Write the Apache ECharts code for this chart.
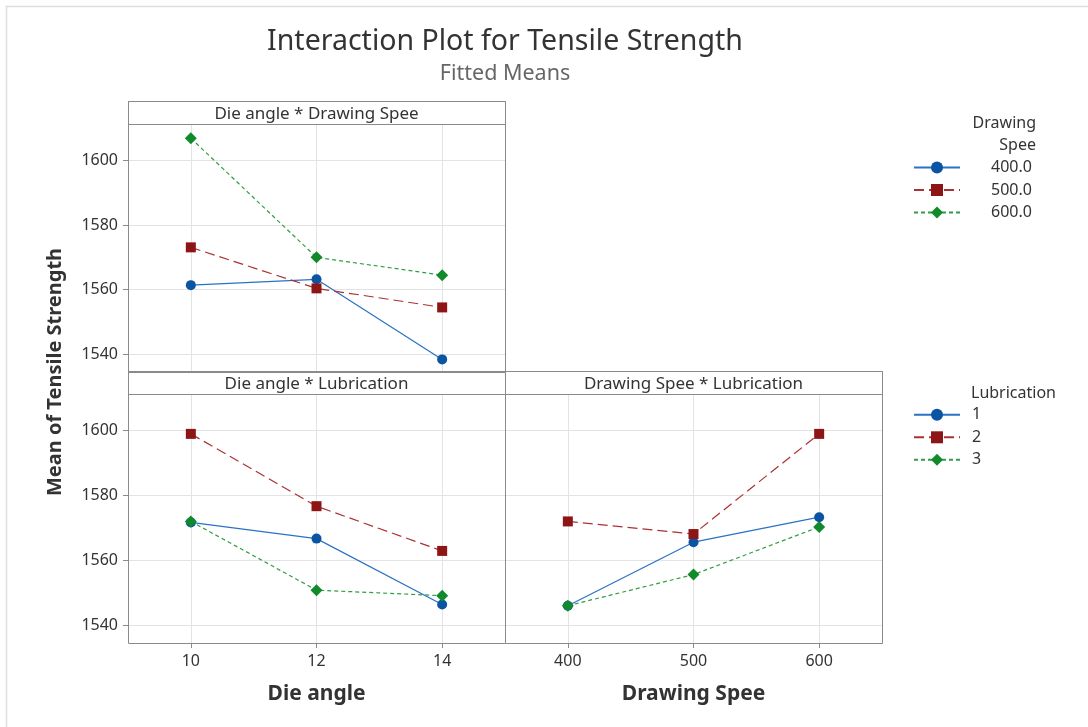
<!DOCTYPE html>
<html>
<head>
<meta charset="utf-8">
<title>Interaction Plot for Tensile Strength</title>
<script src="https://cdn.jsdelivr.net/npm/echarts@6/dist/echarts.min.js"></script>
<style>
  html, body { margin: 0; padding: 0; background: #ffffff; }
  #chart { width: 1088px; height: 727px; }
</style>
</head>
<body>
<div id="chart"></div>
<script>
// Factor levels
const dieAngles = [10, 12, 14];
const drawingSpeeds = [400, 500, 600];
const speedLevels = ['400.0', '500.0', '600.0'];
const lubLevels = ['1', '2', '3'];

// Fitted means: Die angle x Drawing Spee (one array per drawing speed)
const angleSpeed400 = [1561.4, 1563.2, 1538.4];
const angleSpeed500 = [1573.1, 1560.4, 1554.5];
const angleSpeed600 = [1606.9, 1570.0, 1564.5];

// Fitted means: Die angle x Lubrication
const angleLub1 = [1571.7, 1566.7, 1546.4];
const angleLub2 = [1599.0, 1576.7, 1562.9];
const angleLub3 = [1572.0, 1550.8, 1549.1];

// Fitted means: Drawing Spee x Lubrication
const speedLub1 = [1546.0, 1565.6, 1573.3];
const speedLub2 = [1572.0, 1568.1, 1599.0];
const speedLub3 = [1546.0, 1555.6, 1570.3];

// Axis tick labels
const yTicks = [1540, 1560, 1580, 1600];
const angleTicks = [10, 12, 14];
const speedTicks = [400, 500, 600];

const FONT = '"Noto Sans", "Open Sans", sans-serif';
const TEXT = '#333333';
const FRAME = '#8a8a8a';
const GRIDLINE = '#e3e3e3';

// Shared y range for all panels
const yMin = 1534.5, yMax = 1611.3;

const levelStyles = [
  { symbol: 'circle',  size: 10, color: '#0b54a4', line: '#2a72c4', type: 'solid' },
  { symbol: 'rect',    size: 10, color: '#8e1515', line: '#aa3232', type: [10, 5] },
  { symbol: 'diamond', size: 12, color: '#118a2c', line: '#2f9e45', type: [4, 3] }
];

function makeSeries(name, xs, ys, gridIdx, st) {
  return {
    type: 'line',
    name: name,
    xAxisIndex: gridIdx,
    yAxisIndex: gridIdx,
    data: xs.map((x, i) => [x, ys[i]]),
    symbol: st.symbol,
    symbolSize: st.size,
    showAllSymbol: true,
    itemStyle: { color: st.color },
    lineStyle: { color: st.line, width: 1.2, type: st.type },
    emphasis: { disabled: true },
    animation: false
  };
}

function yAxisCfg(gridIdx, showLabels) {
  return {
    type: 'value', gridIndex: gridIdx, min: yMin, max: yMax, splitNumber: 4,
    axisLine: { show: false, onZero: false },
    axisTick: { show: showLabels, length: 5, customValues: yTicks, lineStyle: { color: FRAME } },
    axisLabel: {
      show: showLabels, customValues: yTicks, margin: 10,
      fontSize: 16, fontFamily: FONT, color: TEXT,
      formatter: v => (yTicks.indexOf(v) >= 0 ? String(v) : '')
    },
    splitLine: { show: true, lineStyle: { color: GRIDLINE, width: 1 } }
  };
}

function xAxisCfg(gridIdx, min, max, ticks, showLabels, name) {
  return {
    type: 'value', gridIndex: gridIdx, min: min, max: max, splitNumber: 3,
    axisLine: { show: false, onZero: false },
    axisTick: { show: showLabels, length: 5, customValues: ticks, lineStyle: { color: FRAME } },
    axisLabel: {
      show: showLabels, customValues: ticks, margin: 10,
      fontSize: 16, fontFamily: FONT, color: TEXT,
      formatter: v => (ticks.indexOf(v) >= 0 ? String(v) : '')
    },
    splitLine: { show: true, lineStyle: { color: GRIDLINE, width: 1 } },
    name: name || '',
    nameLocation: 'middle',
    nameGap: 41,
    nameTextStyle: { fontSize: 21, fontWeight: 'bold', fontFamily: FONT, color: TEXT }
  };
}

const frame = { fill: 'none', stroke: FRAME, lineWidth: 1 };

function boxRect(x, y, w, h) {
  return { type: 'rect', z: 100, silent: true, shape: { x: x, y: y, width: w, height: h }, style: frame };
}
function label(x, y, text, size, color, align, extra) {
  return Object.assign({
    type: 'text', z: 101, silent: true, x: x, y: y,
    style: {
      text: text, fontSize: size, fontFamily: FONT, fill: color,
      align: align || 'center', verticalAlign: 'middle'
    }
  }, extra || {});
}

const option = {
  backgroundColor: '#ffffff',
  animation: false,
  grid: [
    { left: 128, top: 124, width: 377, height: 248 },
    { left: 128, top: 394, width: 377, height: 249 },
    { left: 505, top: 394, width: 377, height: 249 }
  ],
  xAxis: [
    xAxisCfg(0, 9, 15, angleTicks, false),
    xAxisCfg(1, 9, 15, angleTicks, true, 'Die angle'),
    xAxisCfg(2, 350, 650, speedTicks, true, 'Drawing Spee')
  ],
  yAxis: [yAxisCfg(0, true), yAxisCfg(1, true), yAxisCfg(2, false)],
  legend: [
    {
      data: speedLevels, orient: 'vertical', left: 913, top: 159.5, padding: 0,
      itemWidth: 46, itemHeight: 15, itemGap: 6.5, selectedMode: false,
      textStyle: { fontSize: 16, fontFamily: FONT, color: TEXT, padding: [0, 0, 0, 26] }
    },
    {
      data: lubLevels, orient: 'vertical', left: 913, top: 406.8, padding: 0,
      itemWidth: 46, itemHeight: 15, itemGap: 6.5, selectedMode: false,
      textStyle: { fontSize: 16, fontFamily: FONT, color: TEXT, padding: [0, 0, 0, 7] }
    }
  ],
  series: [
    makeSeries(speedLevels[0], dieAngles, angleSpeed400, 0, levelStyles[0]),
    makeSeries(speedLevels[1], dieAngles, angleSpeed500, 0, levelStyles[1]),
    makeSeries(speedLevels[2], dieAngles, angleSpeed600, 0, levelStyles[2]),
    makeSeries(lubLevels[0], dieAngles, angleLub1, 1, levelStyles[0]),
    makeSeries(lubLevels[1], dieAngles, angleLub2, 1, levelStyles[1]),
    makeSeries(lubLevels[2], dieAngles, angleLub3, 1, levelStyles[2]),
    makeSeries(lubLevels[0], drawingSpeeds, speedLub1, 2, levelStyles[0]),
    makeSeries(lubLevels[1], drawingSpeeds, speedLub2, 2, levelStyles[1]),
    makeSeries(lubLevels[2], drawingSpeeds, speedLub3, 2, levelStyles[2])
  ],
  graphic: [
    // page frame
    { type: 'rect', z: 99, silent: true, shape: { x: 6.5, y: 6.5, width: 1200, height: 900 },
      style: { fill: 'none', stroke: '#dddddd', lineWidth: 1.5 } },
    // panel frames and header strips
    boxRect(128.5, 101.5, 377, 271),
    boxRect(128.5, 101.5, 377, 23),
    boxRect(128.5, 371.5, 377, 272),
    boxRect(505.5, 371.5, 377, 272),
    boxRect(128.5, 371.5, 754, 23),
    label(316.5, 114, 'Die angle * Drawing Spee', 17, TEXT),
    label(316.5, 384.5, 'Die angle * Lubrication', 17, TEXT),
    label(693.5, 384.5, 'Drawing Spee * Lubrication', 17, TEXT),
    // titles
    label(505, 42, 'Interaction Plot for Tensile Strength', 28.5, TEXT),
    label(505, 73.5, 'Fitted Means', 21.5, '#666666'),
    // y axis title
    label(55, 372, 'Mean of Tensile Strength', 20, TEXT, 'center',
      { rotation: Math.PI / 2, style: { text: 'Mean of Tensile Strength', fontSize: 20, fontWeight: 'bold',
        fontFamily: FONT, fill: TEXT, align: 'center', verticalAlign: 'middle' } }),
    // legend titles
    label(1036, 123, 'Drawing', 16, TEXT, 'right'),
    label(1036, 145, 'Spee', 16, TEXT, 'right'),
    label(971, 393, 'Lubrication', 16, TEXT, 'left')
  ]
};

const chart = echarts.init(document.getElementById('chart'), null, { renderer: 'canvas' });
chart.setOption(option);
</script>
</body>
</html>
